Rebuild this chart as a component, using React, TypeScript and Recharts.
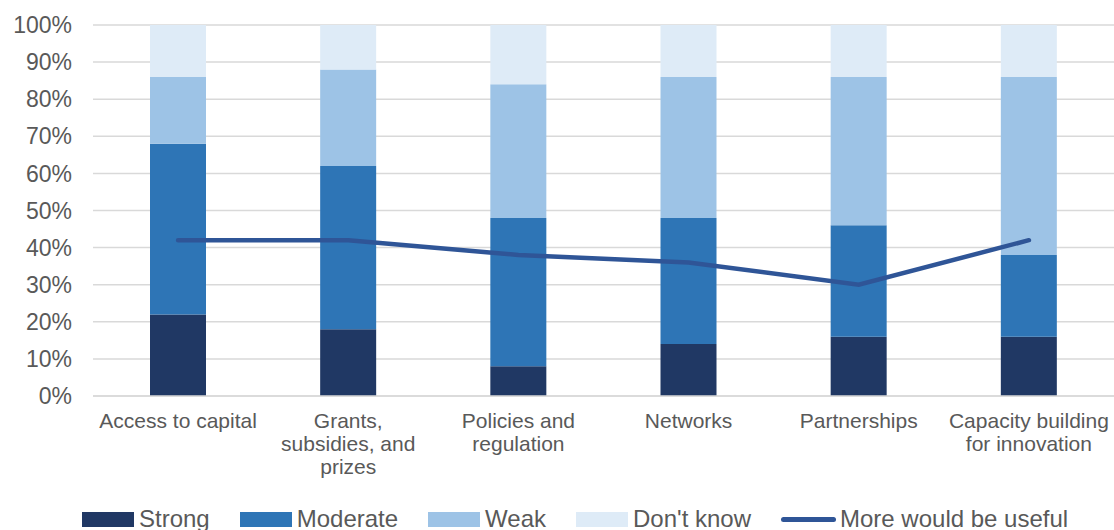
import React from "react";
import {
  ComposedChart,
  Bar,
  Line,
  XAxis,
  YAxis,
  CartesianGrid,
  Legend,
} from "recharts";

// categories and x tick labels (split by hand, like the original)
const categories = [
  "Access to capital",
  "Grants, subsidies, and prizes",
  "Policies and regulation",
  "Networks",
  "Partnerships",
  "Capacity building for innovation",
];
const tickLines = [
  ["Access to capital"],
  ["Grants,", "subsidies, and", "prizes"],
  ["Policies and", "regulation"],
  ["Networks"],
  ["Partnerships"],
  ["Capacity building", "for innovation"],
];

// series values, in %
const strong = [22, 18, 8, 14, 16, 16];
const moderate = [46, 44, 40, 34, 30, 22];
const weak = [18, 26, 36, 38, 40, 48];
const dontKnow = [14, 12, 16, 14, 14, 14];
const moreUseful = [42, 42, 38, 36, 30, 42];

const yTicks = [0, 10, 20, 30, 40, 50, 60, 70, 80, 90, 100];

const data = categories.map((name, i) => ({
  name,
  strong: strong[i],
  moderate: moderate[i],
  weak: weak[i],
  dontKnow: dontKnow[i],
  moreUseful: moreUseful[i],
}));

const FONT = "'Liberation Sans', Arial, sans-serif";
const TEXT = "#595959";

const legendItems = [
  { label: "Strong", color: "#203864", type: "box" },
  { label: "Moderate", color: "#2E75B6", type: "box" },
  { label: "Weak", color: "#9DC3E6", type: "box" },
  { label: "Don't know", color: "#DEEBF7", type: "box" },
  { label: "More would be useful", color: "#2F5597", type: "line" },
];

const CategoryTick = (props: any) => {
  const { x, y, payload } = props;
  const lines = tickLines[payload.index] || [payload.value];
  return (
    <text
      x={x}
      y={y}
      textAnchor="middle"
      fill={TEXT}
      fontSize={21}
      fontFamily={FONT}
    >
      {lines.map((l: string, i: number) => (
        <tspan key={i} x={x} dy={i === 0 ? 24 : 23}>
          {l}
        </tspan>
      ))}
    </text>
  );
};

const LegendContent = () => (
  <div
    style={{
      display: "flex",
      alignItems: "center",
      height: 30,
      paddingLeft: 82,
      gap: 30,
      fontFamily: FONT,
      fontSize: 24,
      color: TEXT,
      whiteSpace: "nowrap",
    }}
  >
    {legendItems.map((it) => (
      <div key={it.label} style={{ display: "flex", alignItems: "center" }}>
        {it.type === "box" ? (
          <div style={{ width: 52, height: 15, background: it.color, marginRight: 5 }} />
        ) : (
          <div
            style={{
              width: 55,
              height: 5,
              borderRadius: 3,
              background: it.color,
              marginRight: 4,
            }}
          />
        )}
        <span>{it.label}</span>
      </div>
    ))}
  </div>
);

export default function App() {
  return (
    <div style={{ position: "absolute", left: 0, top: 0, background: "#fff" }}>
      <ComposedChart
        width={1114}
        height={530}
        data={data}
        margin={{ top: 25, right: 0, bottom: 0, left: 0 }}
      >
        <CartesianGrid vertical={false} stroke="#d9d9d9" strokeWidth={1.5} />
        <XAxis
          dataKey="name"
          tick={<CategoryTick />}
          tickLine={false}
          axisLine={{ stroke: "#d9d9d9", strokeWidth: 1.5 }}
          interval={0}
          height={104}
        />
        <YAxis
          domain={[0, 100]}
          ticks={yTicks}
          tickFormatter={(v) => `${v}%`}
          tick={{ fill: TEXT, fontSize: 23, fontFamily: FONT }}
          tickLine={false}
          axisLine={false}
          tickMargin={15}
          width={93}
          interval={0}
        />
        <Legend
          verticalAlign="bottom"
          content={<LegendContent />}
          wrapperStyle={{ top: 504, left: 0, width: 1114 }}
        />
        <Bar dataKey="strong" stackId="a" fill="#203864" barSize={56} isAnimationActive={false} />
        <Bar dataKey="moderate" stackId="a" fill="#2E75B6" barSize={56} isAnimationActive={false} />
        <Bar dataKey="weak" stackId="a" fill="#9DC3E6" barSize={56} isAnimationActive={false} />
        <Bar dataKey="dontKnow" stackId="a" fill="#DEEBF7" barSize={56} isAnimationActive={false} />
        <Line
          dataKey="moreUseful"
          type="linear"
          stroke="#2F5597"
          strokeWidth={4.5}
          strokeLinecap="round"
          dot={false}
          activeDot={false}
          isAnimationActive={false}
        />
      </ComposedChart>
    </div>
  );
}
